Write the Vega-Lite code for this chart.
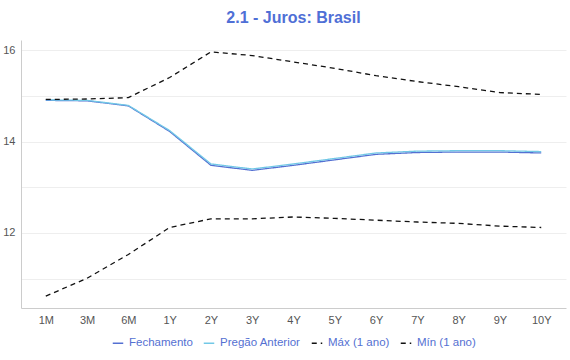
{
  "$schema": "https://vega.github.io/schema/vega-lite/v6.json",
  "autosize": "none",
  "width": 545,
  "height": 268,
  "padding": {"left": 21, "top": 40, "right": 4, "bottom": 52},
  "background": "white",
  "title": {
    "text": "2.1 - Juros: Brasil",
    "font": "Liberation Sans",
    "fontSize": 16,
    "fontWeight": "bold",
    "color": "#4f6fd6",
    "anchor": "middle",
    "offset": 14
  },
  "config": {
    "view": {"stroke": null},
    "font": "Liberation Sans",
    "legend": {"layout": {"bottom": {"anchor": "middle"}}}
  },
  "data": {
    "values": [
      {"tenor": "1M", "serie": "Fechamento", "valor": 14.90},
      {"tenor": "3M", "serie": "Fechamento", "valor": 14.89},
      {"tenor": "6M", "serie": "Fechamento", "valor": 14.78},
      {"tenor": "1Y", "serie": "Fechamento", "valor": 14.22},
      {"tenor": "2Y", "serie": "Fechamento", "valor": 13.48},
      {"tenor": "3Y", "serie": "Fechamento", "valor": 13.37},
      {"tenor": "4Y", "serie": "Fechamento", "valor": 13.48},
      {"tenor": "5Y", "serie": "Fechamento", "valor": 13.60},
      {"tenor": "6Y", "serie": "Fechamento", "valor": 13.72},
      {"tenor": "7Y", "serie": "Fechamento", "valor": 13.76},
      {"tenor": "8Y", "serie": "Fechamento", "valor": 13.77},
      {"tenor": "9Y", "serie": "Fechamento", "valor": 13.77},
      {"tenor": "10Y", "serie": "Fechamento", "valor": 13.75},
      {"tenor": "1M", "serie": "Pregão Anterior", "valor": 14.91},
      {"tenor": "3M", "serie": "Pregão Anterior", "valor": 14.90},
      {"tenor": "6M", "serie": "Pregão Anterior", "valor": 14.79},
      {"tenor": "1Y", "serie": "Pregão Anterior", "valor": 14.24},
      {"tenor": "2Y", "serie": "Pregão Anterior", "valor": 13.51},
      {"tenor": "3Y", "serie": "Pregão Anterior", "valor": 13.40},
      {"tenor": "4Y", "serie": "Pregão Anterior", "valor": 13.51},
      {"tenor": "5Y", "serie": "Pregão Anterior", "valor": 13.63},
      {"tenor": "6Y", "serie": "Pregão Anterior", "valor": 13.75},
      {"tenor": "7Y", "serie": "Pregão Anterior", "valor": 13.79},
      {"tenor": "8Y", "serie": "Pregão Anterior", "valor": 13.80},
      {"tenor": "9Y", "serie": "Pregão Anterior", "valor": 13.80},
      {"tenor": "10Y", "serie": "Pregão Anterior", "valor": 13.78},
      {"tenor": "1M", "serie": "Máx (1 ano)", "valor": 14.92},
      {"tenor": "3M", "serie": "Máx (1 ano)", "valor": 14.93},
      {"tenor": "6M", "serie": "Máx (1 ano)", "valor": 14.96},
      {"tenor": "1Y", "serie": "Máx (1 ano)", "valor": 15.40},
      {"tenor": "2Y", "serie": "Máx (1 ano)", "valor": 15.96},
      {"tenor": "3Y", "serie": "Máx (1 ano)", "valor": 15.88},
      {"tenor": "4Y", "serie": "Máx (1 ano)", "valor": 15.74},
      {"tenor": "5Y", "serie": "Máx (1 ano)", "valor": 15.60},
      {"tenor": "6Y", "serie": "Máx (1 ano)", "valor": 15.44},
      {"tenor": "7Y", "serie": "Máx (1 ano)", "valor": 15.31},
      {"tenor": "8Y", "serie": "Máx (1 ano)", "valor": 15.20},
      {"tenor": "9Y", "serie": "Máx (1 ano)", "valor": 15.07},
      {"tenor": "10Y", "serie": "Máx (1 ano)", "valor": 15.03},
      {"tenor": "1M", "serie": "Mín (1 ano)", "valor": 10.62},
      {"tenor": "3M", "serie": "Mín (1 ano)", "valor": 11.01},
      {"tenor": "6M", "serie": "Mín (1 ano)", "valor": 11.53},
      {"tenor": "1Y", "serie": "Mín (1 ano)", "valor": 12.12},
      {"tenor": "2Y", "serie": "Mín (1 ano)", "valor": 12.31},
      {"tenor": "3Y", "serie": "Mín (1 ano)", "valor": 12.31},
      {"tenor": "4Y", "serie": "Mín (1 ano)", "valor": 12.35},
      {"tenor": "5Y", "serie": "Mín (1 ano)", "valor": 12.32},
      {"tenor": "6Y", "serie": "Mín (1 ano)", "valor": 12.28},
      {"tenor": "7Y", "serie": "Mín (1 ano)", "valor": 12.24},
      {"tenor": "8Y", "serie": "Mín (1 ano)", "valor": 12.21},
      {"tenor": "9Y", "serie": "Mín (1 ano)", "valor": 12.15},
      {"tenor": "10Y", "serie": "Mín (1 ano)", "valor": 12.12}
    ]
  },
  "mark": {"type": "line", "strokeWidth": 1.3},
  "encoding": {
    "x": {
      "field": "tenor",
      "type": "ordinal",
      "sort": ["1M", "3M", "6M", "1Y", "2Y", "3Y", "4Y", "5Y", "6Y", "7Y", "8Y", "9Y", "10Y"],
      "scale": {"type": "point", "padding": 0.6},
      "axis": {
        "title": null,
        "labelAngle": 0,
        "ticks": false,
        "domainColor": "#cccccc",
        "labelColor": "#555555",
        "labelFontSize": 11,
        "labelPadding": 6,
        "grid": false
      }
    },
    "y": {
      "field": "valor",
      "type": "quantitative",
      "scale": {"domain": [10.36, 16.22], "zero": false, "nice": false},
      "axis": {
        "title": null,
        "values": [11, 12, 13, 14, 15, 16],
        "labelExpr": "datum.value % 2 === 0 ? datum.label : ''",
        "ticks": false,
        "domainColor": "#cccccc",
        "gridColor": "#eeeeee",
        "labelColor": "#555555",
        "labelFontSize": 11,
        "labelPadding": 6
      }
    },
    "color": {
      "field": "serie",
      "type": "nominal",
      "scale": {
        "domain": ["Fechamento", "Pregão Anterior", "Máx (1 ano)", "Mín (1 ano)"],
        "range": ["#5470d2", "#72c8e6", "#111111", "#111111"]
      },
      "legend": {
        "title": null,
        "orient": "bottom",
        "direction": "horizontal",
        "symbolType": "stroke",
        "symbolSize": 110,
        "symbolStrokeWidth": 1.3,
        "labelColor": "#5470d2",
        "labelFontSize": 11.5,
        "labelOffset": 5,
        "columnPadding": 8,
        "offset": 12
      }
    },
    "strokeDash": {
      "field": "serie",
      "type": "nominal",
      "scale": {
        "domain": ["Fechamento", "Pregão Anterior", "Máx (1 ano)", "Mín (1 ano)"],
        "range": [[1, 0], [1, 0], [5, 4], [5, 4]]
      },
      "legend": {
        "title": null,
        "orient": "bottom",
        "direction": "horizontal",
        "symbolType": "stroke",
        "symbolSize": 110,
        "symbolStrokeWidth": 1.3,
        "labelColor": "#5470d2",
        "labelFontSize": 11.5,
        "labelOffset": 5,
        "columnPadding": 8,
        "offset": 12
      }
    },
    "order": {"field": "serie"}
  }
}
